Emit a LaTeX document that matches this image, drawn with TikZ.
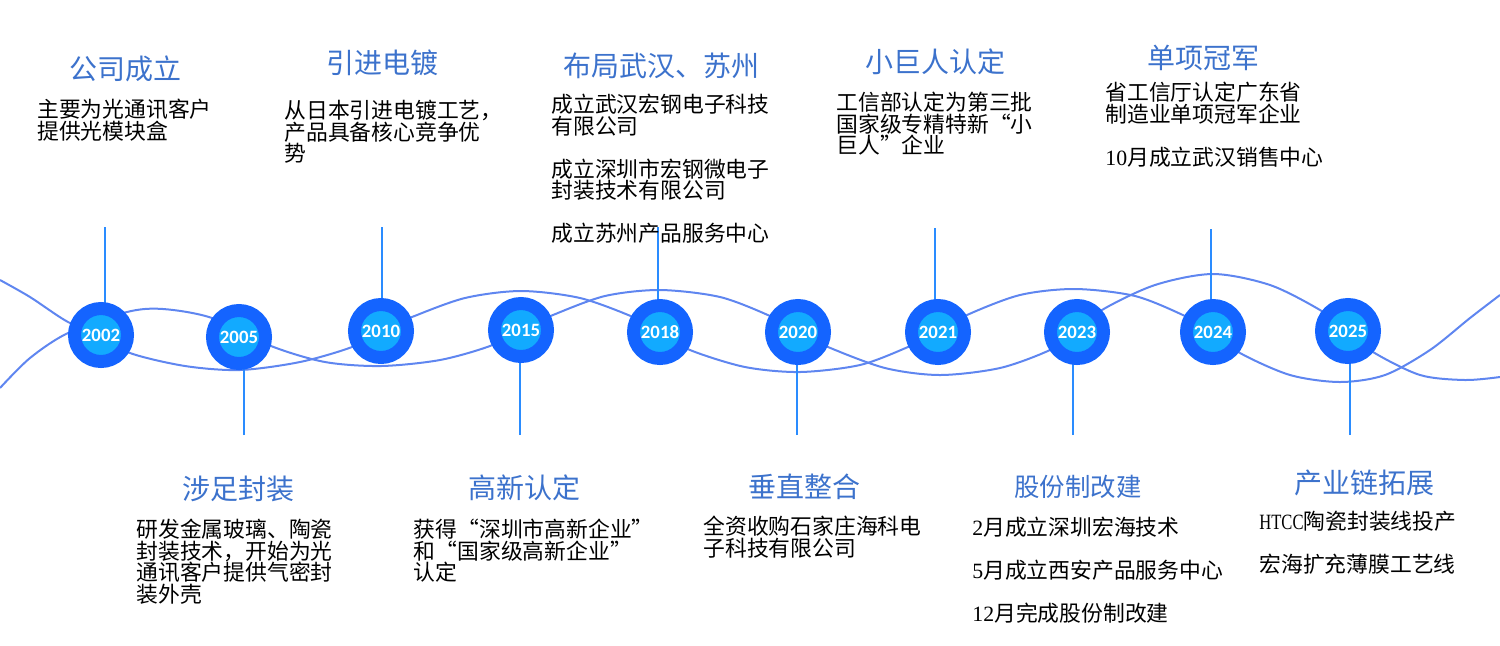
\documentclass[tikz,border=0pt]{standalone}
\usepackage{fontspec}
\setmainfont{Noto Sans CJK SC}
\newfontfamily\yearfont{Carlito}
\newfontfamily\latinfont{Liberation Serif}
\newfontfamily\narrowfont[FakeStretch=0.76]{Liberation Serif}
\usepackage{tikz}
\usetikzlibrary{backgrounds}
\definecolor{ringblue}{HTML}{1464FF}
\definecolor{coreblue}{HTML}{12AAFF}
\definecolor{waveblue}{HTML}{5F86F0}
\definecolor{stemblue}{HTML}{2A8CFF}
\definecolor{titleblue}{HTML}{3C72CC}
\tikzset{
	yearnode/.style={circle, draw=ringblue, line width=6.5pt, fill=coreblue, minimum size=26.5pt, inner sep=0pt, text=white, font=\yearfont\bfseries\fontsize{9.4pt}{10pt}\selectfont},
	titlenode/.style={text=titleblue, inner sep=0pt, font=\fontsize{14pt}{15pt}\selectfont},
	bodynode/.style={anchor=north west, align=left, inner sep=0pt, font=\fontsize{10.9pt}{10.75pt}\selectfont},
	wave/.style={draw=waveblue, line width=1pt},
	stem/.style={draw=stemblue, line width=1pt}
}
\begin{document}
\begin{tikzpicture}[x=0.5pt, y=-0.5pt]
\useasboundingbox (0,0) rectangle (1500,645);
% years
\node[yearnode] (yr2002) at (101,335) {2002};
\node[yearnode] (yr2005) at (239,337) {2005};
\node[yearnode] (yr2010) at (381,331) {2010};
\node[yearnode] (yr2015) at (521,330) {2015};
\node[yearnode] (yr2018) at (660,332) {2018};
\node[yearnode] (yr2020) at (798,332) {2020};
\node[yearnode] (yr2021) at (938,332) {2021};
\node[yearnode] (yr2023) at (1077,332) {2023};
\node[yearnode] (yr2024) at (1213,332) {2024};
\node[yearnode] (yr2025) at (1348,331) {2025};
% titles
\node[titlenode] (t2002) at (125,69) {公司成立};
\node[titlenode] (t2005) at (238,489) {涉足封装};
\node[titlenode] (t2010) at (382,63) {引进电镀};
\node[titlenode] (t2015) at (524,488) {高新认定};
\node[titlenode] (t2018) at (661,66) {布局武汉、苏州};
\node[titlenode] (t2020) at (804,487) {垂直整合};
\node[titlenode] (t2021) at (935,62) {小巨人认定};
\node[titlenode, font=\fontsize{12.7pt}{15pt}\selectfont] (t2023) at (1078,487) {股份制改建};
\node[titlenode] (t2024) at (1203,58) {单项冠军};
\node[titlenode] (t2025) at (1364,483) {产业链拓展};
% texts
\node[bodynode] (b2002) at (37,99) {主要为光通讯客户\\提供光模块盒};
\node[bodynode] (b2005) at (136,519) {研发金属玻璃、陶瓷\\封装技术，开始为光\\通讯客户提供气密封\\装外壳};
\node[bodynode] (b2010) at (284,100) {从日本引进电镀工艺，\\产品具备核心竞争优\\势};
\node[bodynode] (b2015) at (413.5,519) {获得“深圳市高新企业”\\和“国家级高新企业”\\认定};
\node[bodynode] (b2018) at (551,94) {成立武汉宏钢电子科技\\有限公司\\[10.75pt]成立深圳市宏钢微电子\\封装技术有限公司\\[10.75pt]成立苏州产品服务中心};
\node[bodynode] (b2020) at (703,516) {全资收购石家庄海科电\\子科技有限公司};
\node[bodynode] (b2021) at (836,92) {工信部认定为第三批\\国家级专精特新“小\\巨人”企业};
\node[bodynode] (b2023) at (972,517) {{\latinfont 2}月成立深圳宏海技术\\[10.75pt]{\latinfont 5}月成立西安产品服务中心\\[10.75pt]{\latinfont 12}月完成股份制改建};
\node[bodynode] (b2024) at (1105,82) {省工信厅认定广东省\\制造业单项冠军企业\\[10.75pt]{\latinfont 10}月成立武汉销售中心};
\node[bodynode] (b2025) at (1259,511) {{\narrowfont HTCC}陶瓷封装线投产\\[10.75pt]宏海扩充薄膜工艺线};
% free ends of the stems
\coordinate (s2002) at (105,227);
\coordinate (s2005) at (243.5,435);
\coordinate (s2010) at (381.5,227);
\coordinate (s2015) at (520,435);
\coordinate (s2018) at (658,227);
\coordinate (s2020) at (796.5,435);
\coordinate (s2021) at (935,228);
\coordinate (s2023) at (1073,435);
\coordinate (s2024) at (1211,229);
\coordinate (s2025) at (1349.5,435);
\begin{pgfonlayer}{background}
\draw[wave] plot[smooth] coordinates {(0,280) (30,297) (68,322) (yr2002.center) (130,353) (185,366) (240,370) (300,362) (352,347) (yr2010.center) (412,317) (465,298) (521,291) (580,298) (633,317) (yr2018.center) (690,350) (745,367) (800,372) (860,365) (908,347) (yr2021.center) (967,315) (1020,295) (1075,289) (1135,296) (1185,316) (yr2024.center) (1240,353) (1290,375) (1340,382) (1385,375) (1430,350) (1470,318) (1500,295)};
\draw[wave] plot[smooth] coordinates {(0,388) (30,358) (68,333) (127,312) (163,309) (212,318) (271,346) (325,362) (381,366) (440,360) (490,346) (yr2015.center) (553,315) (605,296) (660,290) (720,297) (770,316) (yr2020.center) (828,347) (885,368) (940,375) (1000,368) (1050,350) (yr2023.center) (1102,310) (1155,285) (1213,274) (1270,285) (1320,310) (yr2025.center) (1373,352) (1420,375) (1465,380) (1500,377)};
\path[stem]
(s2002) edge (s2002 |- yr2002.center)
(s2005) edge (s2005 |- yr2005.center)
(s2010) edge (s2010 |- yr2010.center)
(s2015) edge (s2015 |- yr2015.center)
(s2018) edge (s2018 |- yr2018.center)
(s2020) edge (s2020 |- yr2020.center)
(s2021) edge (s2021 |- yr2021.center)
(s2023) edge (s2023 |- yr2023.center)
(s2024) edge (s2024 |- yr2024.center)
(s2025) edge (s2025 |- yr2025.center);
\end{pgfonlayer}
\end{tikzpicture}
\end{document}
